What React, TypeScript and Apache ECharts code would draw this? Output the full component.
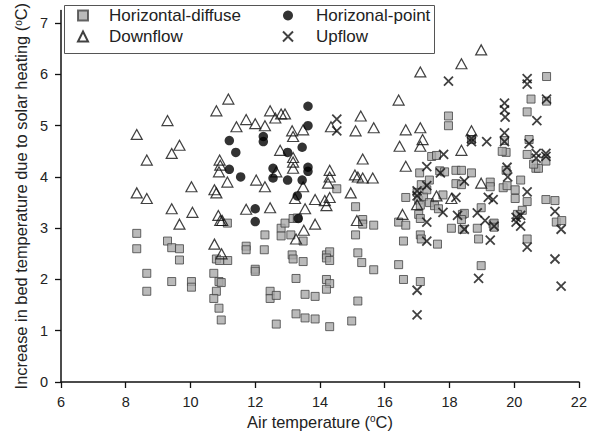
import React, { useEffect, useRef } from "react";
import * as echarts from "echarts";

const seriesNames = ["Horizontal-diffuse", "Downflow", "Horizonal-point", "Upflow"];
const xTickValues = [6, 8, 10, 12, 14, 16, 18, 20, 22];
const yTickValues = [0, 1, 2, 3, 4, 5, 6, 7];

const horizontalDiffuse: number[][] = [
  [8.34, 2.9], [8.34, 2.6], [8.65, 2.12], [8.65, 1.77],
  [9.29, 2.75], [9.42, 2.62], [9.66, 2.6], [9.66, 2.38], [9.42, 1.96],
  [10.03, 1.96], [10.03, 1.85],
  [10.72, 2.12], [10.8, 2.4], [10.9, 2.37], [11.15, 2.37], [10.88, 1.96], [10.95, 1.94],
  [10.8, 1.77], [10.72, 1.63], [10.88, 1.44], [10.95, 1.21], [11.14, 3.1],
  [11.72, 2.65], [11.72, 2.58], [12.0, 2.2], [12.0, 2.16], [12.3, 2.87], [12.28, 2.58],
  [12.8, 3.0], [12.8, 2.85], [12.92, 3.1], [12.46, 1.77], [12.46, 1.63], [12.65, 1.69], [12.65, 1.13],
  [13.1, 2.87], [13.14, 2.48], [13.17, 2.4], [13.26, 2.02], [13.26, 1.33], [13.17, 3.19], [13.3, 3.2],
  [13.48, 2.75], [13.48, 2.35], [13.54, 1.71], [13.85, 1.67], [13.54, 1.25], [13.85, 1.23],
  [14.2, 2.48], [14.3, 2.54], [14.2, 2.42], [14.3, 2.37], [14.2, 2.0], [14.3, 1.92], [14.2, 1.81], [14.3, 1.08],
  [14.98, 1.19], [15.17, 1.58], [15.1, 2.87], [15.17, 2.52], [15.29, 2.33], [15.66, 2.19],
  [15.32, 3.17], [15.32, 3.08], [15.66, 3.06], [14.52, 3.77], [15.1, 3.42],
  [16.43, 3.12], [16.65, 3.06], [16.58, 2.75], [16.43, 2.29], [16.58, 2.0], [16.65, 3.6],
  [17.1, 1.96], [17.05, 3.27], [17.1, 3.19], [17.1, 2.87], [17.13, 2.79], [17.63, 2.69],
  [17.0, 3.7], [17.05, 3.55], [17.1, 3.45], [17.2, 3.62], [17.38, 3.5], [17.54, 3.44], [17.66, 3.38],
  [17.8, 3.65], [17.3, 3.75],
  [17.13, 3.85], [17.38, 3.94], [17.08, 4.08], [17.45, 4.4], [17.6, 4.42], [17.7, 4.12], [17.85, 4.1],
  [17.97, 5.19], [17.97, 5.0],
  [18.2, 4.13], [18.37, 4.13], [18.68, 4.08], [18.2, 3.87], [18.37, 3.85], [18.68, 4.73],
  [18.06, 3.0], [18.4, 2.98], [18.4, 3.27], [18.86, 3.0], [18.9, 2.79], [18.98, 2.27], [18.98, 3.4],
  [18.46, 3.29], [18.37, 3.17],
  [19.26, 3.9], [19.26, 3.81], [19.66, 3.79], [19.78, 3.83], [20.03, 3.75], [20.03, 3.58], [20.2, 3.94],
  [20.4, 3.52], [19.35, 3.08], [19.38, 3.1], [19.38, 3.02], [20.25, 3.35], [20.4, 2.79], [20.1, 3.27],
  [19.7, 4.71], [19.75, 4.48], [19.75, 4.13], [19.63, 4.5],
  [20.4, 4.44], [20.46, 4.73], [20.67, 4.17], [20.75, 4.17], [20.98, 4.31], [20.6, 4.25],
  [21.0, 5.96], [20.52, 5.52], [20.4, 5.27], [21.0, 5.48],
  [20.98, 3.56], [21.26, 3.54], [21.3, 3.12], [21.47, 3.15],
];

const downflow: number[][] = [
  [8.34, 4.83], [9.29, 5.1], [8.65, 4.33], [9.66, 4.62], [9.42, 4.46], [8.34, 3.69], [8.65, 3.58],
  [9.42, 3.38], [10.03, 3.81], [10.06, 3.31], [9.66, 3.08],
  [11.17, 5.52], [10.8, 5.29], [10.9, 4.33], [10.92, 4.23], [10.88, 4.1], [11.14, 3.9],
  [10.74, 3.75], [10.8, 3.69], [10.86, 3.25], [10.92, 3.15], [10.98, 3.15], [10.74, 2.69], [10.96, 2.5],
  [11.42, 4.98], [11.72, 5.12], [12.0, 5.04], [12.3, 5.0], [12.46, 5.29], [12.62, 5.15], [12.8, 5.23], [12.92, 5.23],
  [13.14, 4.9], [13.17, 4.79], [12.77, 4.52], [13.17, 4.38], [13.17, 4.29], [13.17, 4.17],
  [12.03, 3.94], [12.3, 3.81], [12.65, 4.1], [11.72, 3.37], [12.46, 3.4], [13.23, 3.58],
  [13.48, 4.92], [14.34, 4.98], [13.48, 3.81], [13.85, 3.56], [14.15, 3.54], [14.2, 3.44], [14.3, 3.6],
  [14.95, 3.69], [13.54, 3.38], [14.3, 4.13], [14.3, 4.0], [14.25, 3.88],
  [15.08, 4.04], [15.17, 4.0], [15.32, 3.98], [15.63, 3.98], [15.32, 4.35], [15.26, 5.19], [15.1, 4.9],
  [15.66, 4.96], [16.65, 4.92], [17.1, 4.96], [16.46, 4.6], [17.1, 4.6], [17.17, 4.73], [16.65, 4.21],
  [16.43, 5.5], [17.1, 6.05], [18.37, 6.21], [18.98, 6.48], [18.68, 4.9], [18.37, 4.52], [18.98, 3.88],
  [18.06, 3.58], [17.6, 3.63], [17.0, 3.46], [16.55, 3.27], [15.14, 3.15], [13.85, 3.08], [13.5, 2.96],
  [13.26, 2.79],
];

const horizonalPoint: number[][] = [
  [11.2, 4.71], [11.4, 4.48], [11.2, 4.15], [11.55, 4.0], [12.25, 4.79], [12.25, 4.69],
  [12.55, 4.17], [12.55, 3.98], [13.0, 4.48], [13.0, 3.94], [13.45, 4.58], [13.45, 3.94],
  [13.63, 5.38], [13.63, 5.0], [13.63, 4.19], [13.63, 4.11], [13.3, 3.63], [12.0, 3.38],
  [12.0, 3.13], [13.33, 3.19],
];

const upflow: number[][] = [
  [17.97, 5.87], [20.4, 5.92], [20.4, 5.81], [21.0, 5.52], [20.7, 5.1], [19.7, 5.44], [19.7, 5.31],
  [19.72, 5.17], [14.52, 5.13], [14.52, 4.9], [18.68, 4.75], [18.68, 4.69], [19.15, 4.69], [19.7, 4.86],
  [19.7, 4.69], [20.46, 4.65], [20.68, 4.46], [20.68, 4.37], [20.98, 4.46], [20.98, 4.4], [17.82, 4.44],
  [17.3, 4.2], [17.72, 4.08], [19.78, 4.19], [19.8, 4.0], [18.46, 3.92], [17.0, 3.73], [17.0, 3.63],
  [17.3, 3.83], [18.2, 3.6], [19.2, 3.6], [19.35, 3.56], [20.4, 3.71], [17.8, 3.31], [18.25, 3.25],
  [18.86, 3.3], [20.06, 3.21], [20.2, 3.25], [20.06, 3.12], [20.2, 3.04], [21.26, 3.33], [19.1, 3.15],
  [19.38, 3.04], [18.46, 2.98], [19.26, 2.77], [20.4, 2.63], [21.45, 2.98], [21.26, 2.4], [18.9, 2.02],
  [21.45, 1.87], [17.3, 3.12], [17.3, 2.75], [17.0, 1.79], [17.0, 1.31],
];

const crossPath = "path://M0,0L10,10M10,0L0,10";
const FONT = "Liberation Sans, Arial, sans-serif";

export default function App() {
  const ref = useRef<HTMLDivElement>(null);
  useEffect(() => {
    if (!ref.current) return;
    const chart = echarts.init(ref.current, undefined, { renderer: "svg" });
    const axisLabelStyle = { color: "#222", fontSize: 14.5, fontFamily: FONT };
    const nameStyle = {
      color: "#222",
      fontSize: 16.4,
      fontFamily: FONT,
      rich: { sup: { fontSize: 10, verticalAlign: "top", color: "#222", fontFamily: FONT } },
    };
    chart.setOption({
      animation: false,
      textStyle: { fontFamily: FONT },
      grid: { left: 61, right: 10, top: 5, bottom: 55 },
      xAxis: {
        type: "value",
        min: 6,
        max: 22,
        interval: 2,
        splitLine: { show: false },
        axisLine: { lineStyle: { color: "#111", width: 1.5 } },
        axisTick: { length: 6, lineStyle: { color: "#111", width: 1.3 } },
        axisLabel: { ...axisLabelStyle, margin: 12, customValues: xTickValues },
        name: "Air temperature ({sup|o}C)",
        nameLocation: "middle",
        nameGap: 31,
        nameTextStyle: nameStyle,
      },
      yAxis: {
        type: "value",
        min: 0,
        max: 7.25,
        splitLine: { show: false },
        axisLine: { lineStyle: { color: "#111", width: 1.5 } },
        axisTick: { length: 6, customValues: yTickValues, lineStyle: { color: "#111", width: 1.3 } },
        axisLabel: { ...axisLabelStyle, margin: 13, customValues: yTickValues },
        name: "Increase in bed temperature due to solar heating ({sup|o}C)",
        nameLocation: "middle",
        nameGap: 31,
        nameTextStyle: nameStyle,
      },
      legend: [
        {
          data: [seriesNames[0], seriesNames[1]],
          orient: "vertical",
          left: 77,
          top: 7,
          padding: 0,
          itemGap: 4,
          itemWidth: 10,
          itemHeight: 10,
          textStyle: { fontSize: 17, color: "#222", fontFamily: FONT, padding: [0, 0, 0, 16] },
        },
        {
          data: [seriesNames[2], seriesNames[3]],
          orient: "vertical",
          left: 282,
          top: 7,
          padding: 0,
          itemGap: 4,
          itemWidth: 10,
          itemHeight: 10,
          textStyle: { fontSize: 17, color: "#222", fontFamily: FONT, padding: [0, 0, 0, 18] },
        },
      ],
      graphic: [
        {
          type: "rect",
          shape: { x: 64.5, y: 5.5, width: 370, height: 48 },
          style: { fill: "none", stroke: "#555", lineWidth: 1 },
          z: 10,
        },
      ],
      series: [
        {
          name: seriesNames[0],
          type: "scatter",
          symbol: "rect",
          symbolSize: 8,
          data: horizontalDiffuse,
          itemStyle: { color: "#a9a9a9", borderColor: "#444", borderWidth: 1 },
          z: 2,
        },
        {
          name: seriesNames[1],
          type: "scatter",
          symbol: "triangle",
          symbolSize: [11, 10],
          data: downflow,
          itemStyle: { color: "rgba(0,0,0,0)", borderColor: "#111", borderWidth: 1.2 },
          z: 3,
        },
        {
          name: seriesNames[2],
          type: "scatter",
          symbol: "circle",
          symbolSize: 9.5,
          data: horizonalPoint,
          itemStyle: { color: "#000" },
          z: 4,
        },
        {
          name: seriesNames[3],
          type: "scatter",
          symbol: crossPath,
          symbolSize: 9,
          data: upflow,
          itemStyle: { color: "rgba(0,0,0,0)", borderColor: "#111", borderWidth: 1.8 },
          z: 5,
        },
      ],
    });
    return () => chart.dispose();
  }, []);
  return (
    <div
      ref={ref}
      style={{ position: "absolute", left: 0, top: 0, width: 590, height: 437, background: "#fff" }}
    />
  );
}
